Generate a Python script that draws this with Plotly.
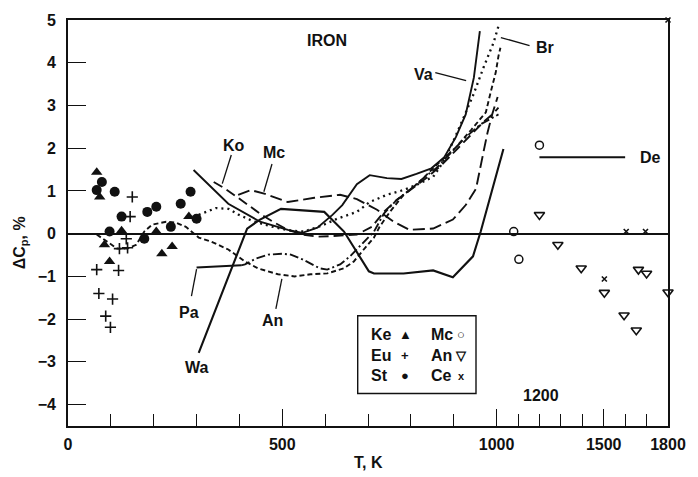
import plotly.graph_objects as go

# ---------------- data (T in K, deviation in %) ----------------
va_T = [293, 335, 374, 448, 513, 547, 582, 617, 640, 674, 704, 744, 778, 813, 848, 878, 905, 928, 947, 961]
va_v = [1.49, 1.09, 0.70, 0.28, 0.09, 0.02, 0.14, 0.44, 0.67, 1.16, 1.37, 1.30, 1.28, 1.40, 1.53, 1.79, 2.26, 2.79, 3.65, 4.74]

wa_T = [305, 418, 448, 497, 598, 644, 702, 714, 783, 852, 898, 945, 963, 1032]
wa_v = [-2.79, 0.12, 0.33, 0.58, 0.51, 0.05, -0.88, -0.93, -0.93, -0.86, -1.02, -0.53, 0.05, 1.98]

pa_solid_T = [300, 404]
pa_solid_v = [-0.79, -0.74]
pa_T = [404, 413, 439, 467, 501, 520, 547, 566, 587, 605, 635, 658, 690, 714, 737, 767, 797, 829, 859, 894, 928, 963, 991, 1009]
pa_v = [-0.74, -0.72, -0.58, -0.49, -0.47, -0.49, -0.60, -0.70, -0.81, -0.84, -0.72, -0.53, -0.19, 0.05, 0.47, 0.79, 1.02, 1.30, 1.53, 1.91, 2.26, 2.56, 2.72, 2.79]

an_T = [67, 92, 115, 139, 159, 178, 196, 229, 252, 275, 305, 335, 374, 413, 443, 490, 529, 566, 605, 644, 667, 690, 714, 727, 751, 783, 820, 859, 905, 940, 975, 986, 998, 1009, 1018]
an_v = [-0.02, -0.19, -0.35, -0.35, -0.26, 0.05, 0.21, 0.28, 0.26, 0.16, -0.09, -0.19, -0.37, -0.65, -0.81, -0.95, -1.00, -0.95, -0.93, -0.81, -0.65, -0.37, -0.09, 0.16, 0.51, 0.91, 1.21, 1.60, 2.02, 2.42, 2.84, 3.30, 3.77, 4.16, 4.35]

ko_T = [340, 367, 397, 420, 448, 478, 513, 547, 582, 628, 674, 709, 737, 767, 801, 836, 871, 905, 940, 970, 991, 1009]
ko_v = [1.21, 1.05, 0.84, 0.67, 0.47, 0.28, 0.09, -0.02, -0.07, -0.05, -0.02, 0.16, 0.51, 0.79, 1.05, 1.30, 1.60, 1.95, 2.30, 2.62, 2.80, 2.95]

mc_T = [397, 427, 460, 513, 575, 635, 674, 721, 760, 797, 852, 898, 928, 952, 968, 979, 990, 1005]
mc_v = [0.91, 1.02, 0.93, 0.74, 0.84, 0.91, 0.81, 0.56, 0.28, 0.09, 0.12, 0.33, 0.67, 1.05, 1.84, 2.37, 2.80, 3.20]

br_T = [305, 345, 375, 397, 430, 470, 513, 550, 590, 628, 674, 704, 744, 783, 813, 852, 875, 898, 921, 945, 970, 993, 1009]
br_v = [0.44, 0.60, 0.58, 0.45, 0.30, 0.18, 0.08, 0.05, 0.18, 0.35, 0.51, 0.74, 0.91, 1.02, 1.14, 1.33, 1.67, 2.14, 2.67, 3.23, 3.90, 4.47, 4.86]

de_T = [1200, 1600]
de_v = [1.79, 1.79]

# point data
ke_T = [67, 74, 85, 97, 125, 206, 219, 243, 282]
ke_v = [1.44, 0.86, -0.26, -0.65, 0.07, 0.05, -0.47, -0.30, 0.40]
st_T = [79, 67, 109, 125, 97, 185, 206, 263, 286, 300, 240, 178]
st_v = [1.21, 1.02, 0.98, 0.40, 0.05, 0.51, 0.63, 0.70, 0.98, 0.35, 0.16, -0.12]
eu_T = [150, 145, 136, 120, 139, 67, 118, 72, 104, 88, 99]
eu_v = [0.86, 0.40, -0.12, -0.35, -0.33, -0.84, -0.86, -1.40, -1.53, -1.93, -2.19]
mco_T = [1080, 1104, 1200]
mco_v = [0.05, -0.60, 2.07]
ant_T = [1200, 1286, 1395, 1503, 1595, 1652, 1662, 1700, 1800]
ant_v = [0.44, -0.26, -0.81, -1.38, -1.91, -2.26, -0.84, -0.93, -1.37]
ce_T = [1503, 1605, 1695, 1800]
ce_v = [-1.06, 0.05, 0.05, 5.0]

x_tick_T = [0, 500, 1000, 1500, 1800]
x_tick_text = ["0", "500", "1000", "1500", "1800"]
x_minor_T = [100, 200, 300, 400, 600, 700, 800, 900, 1100, 1200, 1300, 1400, 1600, 1700]
y_ticks = [-4, -3, -2, -1, 0, 1, 2, 3, 4, 5]


def tx(vals):
    """Broken temperature scale: above 1000 K the axis runs at half the rate."""
    return [t if t <= 1000 else 1000 + (t - 1000) / 2 for t in vals]


INK = "#111111"
FONT = "Liberation Sans, Arial, Helvetica, sans-serif"
FS = 16
WT = "bold"
LW = 1.9

fig = go.Figure()


def add_line(T, v, dash, width=LW):
    fig.add_trace(go.Scatter(x=tx(T), y=v, mode="lines",
                             line=dict(color=INK, width=width, dash=dash),
                             hoverinfo="skip", showlegend=False))


add_line(va_T, va_v, "solid")
add_line(wa_T, wa_v, "solid", 2.1)
add_line(pa_solid_T, pa_solid_v, "solid")
add_line(pa_T, pa_v, "9px,3px,2px,3px")
add_line(an_T, an_v, "5px,3px")
add_line(ko_T, ko_v, "10px,5px")
add_line(mc_T, mc_v, "12px,5px")
add_line(br_T, br_v, "2px,4px", 2.3)
add_line(de_T, de_v, "solid")


def add_pts(T, v, symbol, size, lw=0, color=INK):
    fig.add_trace(go.Scatter(x=tx(T), y=v, mode="markers", cliponaxis=False,
                             marker=dict(symbol=symbol, size=size, color=color,
                                         line=dict(color=INK, width=lw)),
                             hoverinfo="skip", showlegend=False))


add_pts(ke_T, ke_v, "triangle-up", 10)
add_pts(st_T, st_v, "circle", 10)
add_pts(eu_T, eu_v, "cross-thin", 8, 1.6)
add_pts(mco_T, mco_v, "circle-open", 8, 1.5)
add_pts(ant_T, ant_v, "triangle-down-open", 9, 1.6)
add_pts(ce_T, ce_v, "x-thin", 5, 1.6)

ann = []


def label(x, y, text, size=FS, xanchor="center"):
    ann.append(dict(x=x, y=y, xref="x", yref="y", text=text, showarrow=False,
                    xanchor=xanchor, yanchor="middle",
                    font=dict(family=FONT, size=size, color=INK, weight=WT)))


def leader(x0, y0, x1, y1):
    fig.add_shape(type="line", xref="x", yref="y", x0=x0, y0=y0, x1=x1, y1=y1,
                  line=dict(color=INK, width=1.3))


label(604, 4.51, "IRON")
label(388, 2.07, "Ko")
leader(381, 1.84, 360, 1.17)
label(481, 1.91, "Mc")
leader(476, 1.63, 457, 0.98)
label(829, 3.72, "Va")
leader(857, 3.77, 929, 3.58)
label(1112, 4.35, "Br")
leader(1077, 4.40, 1010, 4.59)
label(1358, 1.79, "De")
label(283, -1.85, "Pa")
leader(288, -1.46, 300, -0.83)
label(476, -2.04, "An")
leader(485, -1.76, 499, -1.06)
label(302, -3.13, "Wa")
label(1103, -3.78, "1200")

# key box
fig.add_shape(type="rect", xref="x", yref="y", x0=676, y0=-1.92, x1=952, y1=-3.74,
              line=dict(color=INK, width=1.4), fillcolor="white", layer="above")
rows = [(-2.35, "Ke", "▲", "Mc", "○"), (-2.86, "Eu", "+", "An", "▽"), (-3.32, "St", "●", "Ce", "x")]
for y, a, sa, b, sb in rows:
    label(703, y, a, xanchor="left")
    label(787, y, sa, size=13)
    label(842, y, b, xanchor="left")
    label(917, y, sb, size=13 if sb != "x" else 11)

# axis titles
ann.append(dict(x=-0.08, y=0.45, xref="paper", yref="paper", textangle=-90,
                text="ΔC<sub>p</sub>, %", showarrow=False, xanchor="center", yanchor="middle",
                font=dict(family=FONT, size=FS, color=INK, weight=WT)))
ann.append(dict(x=0.5, y=-0.0905, xref="paper", yref="paper", text="T, K",
                showarrow=False, xanchor="center", yanchor="middle",
                font=dict(family=FONT, size=FS, color=INK, weight=WT)))

fig.update_layout(
    width=698, height=477,
    margin=dict(l=68, r=27, t=17, b=51),
    paper_bgcolor="white", plot_bgcolor="white",
    font=dict(family=FONT, size=FS, color=INK),
    annotations=ann,
    xaxis=dict(range=[0, 1400], tickmode="array", tickvals=tx(x_tick_T), ticktext=x_tick_text,
               ticks="inside", ticklen=17, tickwidth=1.4, tickcolor=INK,
               minor=dict(tickmode="array", tickvals=tx(x_minor_T), ticks="inside",
                          ticklen=12, tickwidth=1.4, tickcolor=INK, showgrid=False),
               showline=True, linecolor=INK, linewidth=1.7, mirror=True,
               showgrid=False, zeroline=False, ticklabelstandoff=3,
               tickfont=dict(family=FONT, size=FS, color=INK, weight=WT)),
    yaxis=dict(range=[-4.5, 5], tickmode="array", tickvals=y_ticks,
               ticktext=[str(t).replace("-", "−") for t in y_ticks],
               ticks="inside", ticklen=18, tickwidth=1.4, tickcolor=INK,
               showline=True, linecolor=INK, linewidth=1.7, mirror=True,
               showgrid=False, zeroline=True, zerolinecolor=INK, zerolinewidth=1.6,
               ticklabelstandoff=7, tickfont=dict(family=FONT, size=16, color=INK, weight=WT)),
)

fig.write_html("out.html")
